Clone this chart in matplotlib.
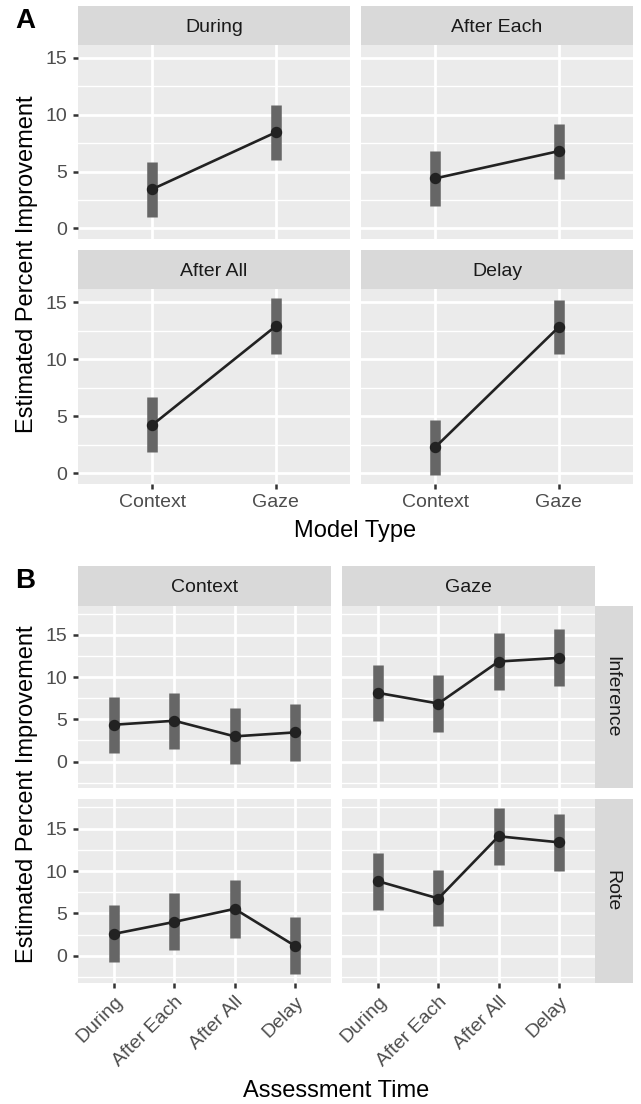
import matplotlib
matplotlib.use("Agg")
import matplotlib.pyplot as plt
import numpy as np

plt.rcParams['font.family'] = ['Liberation Sans', 'DejaVu Sans']

# ---------------- data ----------------
times = ["During", "After Each", "After All", "Delay"]
models = ["Context", "Gaze"]
types = ["Inference", "Rote"]

# Panel A: per assessment time, values for [Context, Gaze]
A_est = {"During": [3.45, 8.45], "After Each": [4.40, 6.80],
         "After All": [4.22, 12.90], "Delay": [2.27, 12.82]}
A_lo = {"During": [1.02, 6.03], "After Each": [1.98, 4.37],
        "After All": [1.83, 10.49], "Delay": [-0.15, 10.43]}
A_hi = {"During": [5.80, 10.87], "After Each": [6.79, 9.18],
        "After All": [6.70, 15.35], "Delay": [4.66, 15.21]}

# Panel B: per (type, model), values for the four assessment times
B_est = {("Inference", "Context"): [4.36, 4.83, 2.98, 3.45],
         ("Inference", "Gaze"): [8.13, 6.87, 11.85, 12.28],
         ("Rote", "Context"): [2.59, 4.00, 5.54, 1.18],
         ("Rote", "Gaze"): [8.80, 6.76, 14.10, 13.39]}
B_lo = {("Inference", "Context"): [1.01, 1.48, -0.32, 0.07],
        ("Inference", "Gaze"): [4.78, 3.53, 8.43, 8.90],
        ("Rote", "Context"): [-0.71, 0.71, 2.12, -2.19],
        ("Rote", "Gaze"): [5.42, 3.46, 10.72, 10.06]}
B_hi = {("Inference", "Context"): [7.69, 8.13, 6.36, 6.83],
        ("Inference", "Gaze"): [11.43, 10.20, 15.23, 15.67],
        ("Rote", "Context"): [5.97, 7.39, 8.92, 4.56],
        ("Rote", "Gaze"): [12.18, 10.09, 17.48, 16.73]}

yticks = [0, 5, 10, 15]

# ---------------- layout helpers ----------------
W, H = 641, 1104
fig = plt.figure(figsize=(W / 100, H / 100), dpi=100)

PANEL_BG = '#EBEBEB'
STRIP_BG = '#D9D9D9'
BAR_C = '#666666'
PT_C = '#222222'


def box(x0, y0, x1, y1):
    return [x0 / W, 1 - y1 / H, (x1 - x0) / W, (y1 - y0) / H]


def ftext(x, y, s, **kw):
    fig.text(x / W, 1 - y / H, s, **kw)


def strip_h(x0, y0, x1, y1, label):
    s = fig.add_axes(box(x0, y0, x1, y1))
    s.set_facecolor(STRIP_BG)
    s.set_xticks([]); s.set_yticks([])
    for sp in s.spines.values():
        sp.set_visible(False)
    ftext((x0 + x1) / 2, (y0 + y1) / 2 + 6, label, ha='center', va='baseline',
          fontsize=14, color='#1A1A1A')


def strip_v(x0, y0, x1, y1, label):
    s = fig.add_axes(box(x0, y0, x1, y1))
    s.set_facecolor(STRIP_BG)
    s.set_xticks([]); s.set_yticks([])
    for sp in s.spines.values():
        sp.set_visible(False)
    ftext((x0 + x1) / 2 - 7, (y0 + y1) / 2, label, ha='center', va='baseline',
          rotation=-90, rotation_mode='anchor', fontsize=14, color='#1A1A1A')


def limits(lo_vals, hi_vals):
    mn, mx = min(lo_vals), max(hi_vals)
    pad = 0.05 * (mx - mn)
    return mn - pad, mx + pad


def panel(rect, n, ylim, show_x, show_y, xlabels, rotate=False):
    ax = fig.add_axes(box(*rect))
    ax.set_facecolor(PANEL_BG)
    for sp in ax.spines.values():
        sp.set_visible(False)
    ax.set_xlim(0.4, n + 0.6)
    ax.set_ylim(*ylim)
    ax.set_xticks(np.arange(1, n + 1))
    ax.set_yticks(yticks)
    minor = [v for v in np.arange(-2.5, 20, 5) if ylim[0] <= v <= ylim[1]]
    ax.set_yticks(minor, minor=True)
    ax.grid(which='major', color='white', linewidth=1.95)
    ax.grid(which='minor', axis='y', color='white', linewidth=0.97)
    ax.set_axisbelow(True)
    ax.tick_params(which='minor', length=0)
    ax.tick_params(which='major', length=3.6, width=1.8, color='#333333',
                   labelcolor='#4D4D4D', labelsize=14, pad=4)
    if show_y:
        ax.set_yticklabels([str(v) for v in yticks])
    else:
        ax.tick_params(axis='y', length=0, labelleft=False)
    if show_x:
        if rotate:
            ax.set_xticklabels(xlabels, rotation=45, ha='right', va='top',
                               rotation_mode='anchor')
        else:
            ax.set_xticklabels(xlabels)
    else:
        ax.tick_params(axis='x', length=0, labelbottom=False)
    return ax


def draw(ax, est, lo, hi):
    x = np.arange(1, len(est) + 1)
    ax.vlines(x, lo, hi, color=BAR_C, linewidth=7.6, zorder=2)
    ax.plot(x, est, color=PT_C, linewidth=1.9, zorder=3,
            solid_capstyle='butt')
    ax.plot(x, est, linestyle='none', marker='o', markersize=7.2,
            color=PT_C, zorder=4)


# ---------------- Panel A ----------------
ylimA = limits([v for t in times for v in A_lo[t]],
               [v for t in times for v in A_hi[t]])
colsA = [(78, 350), (361, 633)]
rowsA = [((6, 45), (45, 239)), ((250, 289.3), (289.3, 483.7))]
for i, t in enumerate(times):
    r, c = divmod(i, 2)
    (sy0, sy1), (py0, py1) = rowsA[r]
    x0, x1 = colsA[c]
    strip_h(x0, sy0, x1, sy1, t)
    ax = panel((x0, py0, x1, py1), 2, ylimA, show_x=(r == 1), show_y=(c == 0),
               xlabels=models)
    draw(ax, A_est[t], A_lo[t], A_hi[t])

ftext(33, 264.5, "Estimated Percent Improvement", rotation=90,
      rotation_mode='anchor', ha='center', va='baseline', fontsize=17)
ftext(355.5, 537, "Model Type", ha='center', va='baseline', fontsize=17)
ftext(15, 28, "A", ha='left', va='baseline', fontsize=20, fontweight='bold')

# ---------------- Panel B ----------------
ylimB = limits([v for k in B_lo for v in B_lo[k]],
               [v for k in B_hi for v in B_hi[k]])
colsB = [(78, 331), (342, 595)]
rowsB = [(605.7, 788.3), (799.3, 982.7)]
for c, m in enumerate(models):
    strip_h(colsB[c][0], 566, colsB[c][1], 605.7, m)
for r, ty in enumerate(types):
    py0, py1 = rowsB[r]
    strip_v(595, py0, 633, py1, ty)
    for c, m in enumerate(models):
        x0, x1 = colsB[c]
        ax = panel((x0, py0, x1, py1), 4, ylimB, show_x=(r == 1),
                   show_y=(c == 0), xlabels=times, rotate=True)
        draw(ax, B_est[(ty, m)], B_lo[(ty, m)], B_hi[(ty, m)])

ftext(33.5, 794, "Estimated Percent Improvement", rotation=90,
      rotation_mode='anchor', ha='center', va='baseline', fontsize=17)
ftext(336.5, 1097, "Assessment Time", ha='center', va='baseline', fontsize=17)
ftext(15, 588, "B", ha='left', va='baseline', fontsize=20, fontweight='bold')

fig.savefig("out.png", dpi=100, facecolor='white')
